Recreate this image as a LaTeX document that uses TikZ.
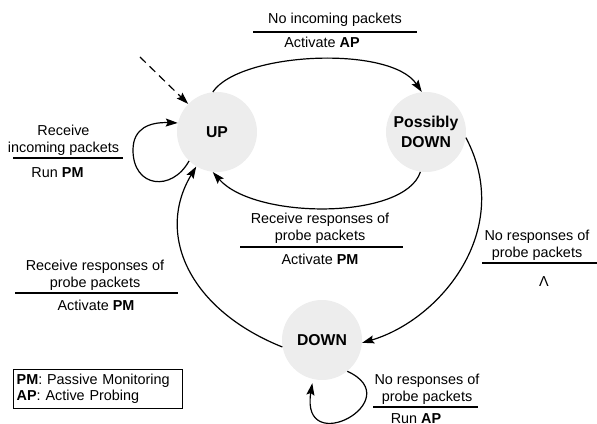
\documentclass[tikz,border=0pt]{standalone}
\usepackage{fontspec}
\setmainfont{Liberation Sans}
\usetikzlibrary{arrows.meta}
\newcommand\lblsize{\fontsize{10.8pt}{12.75pt}\selectfont}
\newcommand\legsize{\fontsize{10.8pt}{12pt}\selectfont}
\newcommand\statesize{\fontsize{11.8pt}{15pt}\selectfont\bfseries}
\begin{document}
\begin{tikzpicture}[x=0.75pt,y=-0.75pt,
  state/.style={circle, fill=black!7, draw=none, minimum size=60pt,
    inner sep=0pt, font=\statesize, align=center},
  trans/.style={line width=0.9pt, -{Stealth[length=9pt,width=6pt,inset=1.5pt]}},
  lbl/.style={inner sep=0pt, font=\lblsize, align=center},
  rulebar/.style={line width=1pt},
]
\useasboundingbox (0,0) rectangle (597,424);

% states
\node[state] (up)   at (217,132) {UP};
\node[state] (pd)   at (426,132) {Possibly\\DOWN};
\node[state] (down) at (322,340) {DOWN};

% initial transition
\coordinate (init) at (140,57);
\draw[trans, dash pattern=on 6pt off 4pt] (init) -- (up);

% UP -> Possibly DOWN
\draw[trans] (up.96) .. controls (240,52) and (390,45) .. (pd.96);
\node[lbl, anchor=south] (lA) at (335,27) {No incoming packets};
\node[lbl, anchor=base]  (lAb) at (322,48) {Activate \textbf{AP}};
\draw[rulebar] (253,32) -- (417,32);

% Possibly DOWN -> UP
\draw[trans] (pd.-98) .. controls (405,220) and (255,220) .. (up.-96);
\node[lbl, anchor=south] (lB) at (320,244) {Receive responses of\\probe packets};
\node[lbl, anchor=base]  (lBb) at (320,265) {Activate \textbf{PM}};
\draw[rulebar] (240,247) -- (403,247);

% Possibly DOWN -> DOWN
\draw[trans] (pd.-8) .. controls (515,230) and (440,320) .. (down.-4);
\node[lbl, anchor=south] (lD) at (537,260.5) {No responses of\\probe packets};
\node[lbl, anchor=base]  (lDb) at (544,287) {Λ};
\draw[rulebar] (482,263) -- (597,263);

% DOWN -> UP
\draw[trans] (down.190) .. controls (190,310) and (155,235) .. (up.-121);
\node[lbl, anchor=south] (lC) at (95,291) {Receive responses of\\probe packets};
\node[lbl, anchor=base]  (lCb) at (96,311) {Activate \textbf{PM}};
\draw[rulebar] (15,293) -- (178,293);

% UP self-loop
\draw[trans] (up.-134) .. controls (172,192) and (133,188) .. (133,150)
  .. controls (133,128) and (150,122) .. (up.167);
\node[lbl, anchor=south] (lE) at (63.5,155.5) {Receive\\incoming packets};
\node[lbl, anchor=base]  (lEb) at (57.5,178) {Run \textbf{PM}};
\draw[rulebar] (13,158) -- (123,158);

% DOWN self-loop
\draw[trans, shorten >=3pt] (down.-51) .. controls (410,400) and (300,460) .. (down.-103);
\node[lbl, anchor=south] (lF) at (427,404.5) {No responses of\\probe packets};
\node[lbl, anchor=base]  (lFb) at (416,423) {Run \textbf{AP}};
\draw[rulebar] (373,407) -- (478,407);

% legend
\node[draw, line width=0.8pt, anchor=north west, minimum width=126.75pt,
  minimum height=29.25pt, inner xsep=2pt, inner ysep=0pt, text width=122pt,
  align=left, font=\legsize] (legend) at (13,369)
  {\textbf{PM}: Passive Monitoring\\\textbf{AP}: Active Probing};
\end{tikzpicture}
\end{document}
